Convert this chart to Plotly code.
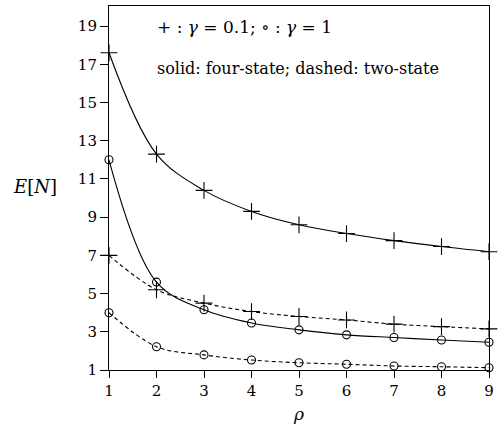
import plotly.graph_objects as go

rho = [1, 2, 3, 4, 5, 6, 7, 8, 9]
four_state_g01 = [17.6, 12.3, 10.4, 9.3, 8.6, 8.14, 7.77, 7.46, 7.19]
four_state_g1 = [12.0, 5.6, 4.15, 3.46, 3.1, 2.84, 2.7, 2.57, 2.45]
two_state_g01 = [7.0, 5.2, 4.5, 4.06, 3.8, 3.62, 3.4, 3.27, 3.15]
two_state_g1 = [4.0, 2.22, 1.79, 1.52, 1.38, 1.3, 1.21, 1.17, 1.12]
x_ticks = [1, 2, 3, 4, 5, 6, 7, 8, 9]
y_ticks = [1, 3, 5, 7, 9, 11, 13, 15, 17, 19]

FONT = "DejaVu Serif"

W, H = 499, 429
l, r, t, b = 109, 5, 6, 59
pw, ph = W - l - r, H - t - b

fig = go.Figure()

def add(y, symbol, dash, size):
    fig.add_trace(go.Scatter(
        x=rho, y=y, mode="lines",
        line=dict(color="black", width=1.1, dash=dash, shape="spline", smoothing=1.0),
        showlegend=False, hoverinfo="skip"))
    fig.add_trace(go.Scatter(
        x=rho, y=y, mode="markers", cliponaxis=False,
        marker=dict(symbol=symbol, size=size, color="black",
                    line=dict(color="black", width=1.1)),
        showlegend=False))

add(four_state_g01, "cross-thin-open", "solid", 12)
add(four_state_g1, "circle-open", "solid", 8)
add(two_state_g01, "cross-thin-open", "4px,3px", 12)
add(two_state_g1, "circle-open", "4px,3px", 8)

def px_ann(text, px, py, size, xanchor="center"):
    return dict(text=text, x=(px - l) / pw, y=1 - (py - t) / ph,
                xref="paper", yref="paper", xanchor=xanchor, yanchor="middle",
                showarrow=False, font=dict(family=FONT, size=size, color="black"))

fig.update_layout(
    width=W, height=H,
    margin=dict(l=l, r=r, t=t, b=b),
    paper_bgcolor="white", plot_bgcolor="white",
    font=dict(family=FONT, color="black", size=14),
    xaxis=dict(range=[1, 9], tickvals=x_ticks, showgrid=False, zeroline=False,
               showline=True, linecolor="black", linewidth=1.1, mirror=True,
               ticks="outside", ticklen=7, tickcolor="black",
               tickfont=dict(family=FONT, size=15)),
    yaxis=dict(range=[1, 20.05], tickvals=y_ticks, showgrid=False, zeroline=False,
               showline=True, linecolor="black", linewidth=1.1, mirror=True,
               ticks="outside", ticklen=8, tickcolor="black",
               tickfont=dict(family=FONT, size=15)),
    annotations=[
        px_ann("<i>E</i>[<i>N</i>]", 34, 186, 18),
        px_ann("<i>ρ</i>", 301, 414, 17),
        px_ann("+ : <i>γ</i> = 0.1; ∘ : <i>γ</i> = 1", 156, 27, 17, "left"),
        px_ann("solid: four-state; dashed: two-state", 156, 68, 16, "left"),
    ],
)

fig.write_html("out.html", config={"displayModeBar": False},
               post_script="document.body.style.margin='0';")
